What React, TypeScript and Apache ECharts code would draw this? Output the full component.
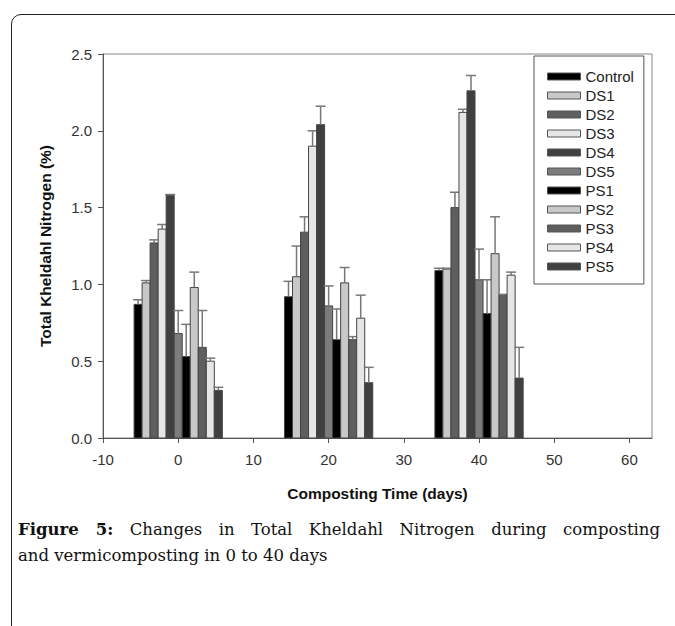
import React, { useEffect, useRef } from 'react';
import * as echarts from 'echarts';

// ---- data ----
const days = [0, 20, 40];
const seriesNames = ['Control', 'DS1', 'DS2', 'DS3', 'DS4', 'DS5', 'PS1', 'PS2', 'PS3', 'PS4', 'PS5'];

const control = [0.87, 0.92, 1.09];
const controlErr = [0.03, 0.10, 0.015];
const ds1 = [1.01, 1.05, 1.10];
const ds1Err = [0.015, 0.20, 0.005];
const ds2 = [1.27, 1.34, 1.50];
const ds2Err = [0.02, 0.10, 0.10];
const ds3 = [1.36, 1.90, 2.12];
const ds3Err = [0.03, 0.10, 0.02];
const ds4 = [1.58, 2.04, 2.26];
const ds4Err = [0.005, 0.12, 0.10];
const ds5 = [0.68, 0.86, 1.03];
const ds5Err = [0.15, 0.13, 0.20];
const ps1 = [0.53, 0.64, 0.81];
const ps1Err = [0.21, 0.20, 0.22];
const ps2 = [0.98, 1.01, 1.20];
const ps2Err = [0.10, 0.10, 0.24];
const ps3 = [0.59, 0.64, 0.93];
const ps3Err = [0.24, 0.02, 0.005];
const ps4 = [0.50, 0.78, 1.06];
const ps4Err = [0.02, 0.15, 0.02];
const ps5 = [0.31, 0.36, 0.39];
const ps5Err = [0.02, 0.10, 0.20];

const xTicks = [-10, 0, 10, 20, 30, 40, 50, 60];

// ---- styles ----
const colors = ['#000000', '#c8c8c8', '#5e5e5e', '#e6e6e6', '#404040', '#7c7c7c',
  '#000000', '#c8c8c8', '#5e5e5e', '#e6e6e6', '#404040'];
const BAR_W = 1.067; // bar width in x-axis units (days)
const SANS = '"Liberation Sans", Arial, sans-serif';
const SERIF = '"DejaVu Serif", "Liberation Serif", serif';

export default function App() {
  const ref = useRef<HTMLDivElement>(null);

  useEffect(() => {
    const chart = echarts.init(ref.current as HTMLDivElement, null, { renderer: 'svg' });
    const values = [control, ds1, ds2, ds3, ds4, ds5, ps1, ps2, ps3, ps4, ps5];
    const errs = [controlErr, ds1Err, ds2Err, ds3Err, ds4Err, ds5Err, ps1Err, ps2Err, ps3Err, ps4Err, ps5Err];
    const n = seriesNames.length;

    const series: any[] = seriesNames.map((name, i) => ({
      name,
      type: 'custom',
      itemStyle: { color: colors[i], borderColor: '#444', borderWidth: 1 },
      encode: { x: 0, y: 1 },
      data: days.map((d, k) => [d, values[i][k], errs[i][k]]),
      renderItem: (params: any, api: any) => {
        const d = api.value(0);
        const v = api.value(1);
        const e = api.value(2);
        const xc = d + (i - (n - 1) / 2) * BAR_W;
        const tl = api.coord([xc - BAR_W / 2, v]);
        const br = api.coord([xc + BAR_W / 2, 0]);
        const c = api.coord([xc, v]);
        const t = api.coord([xc, v + e]);
        return {
          type: 'group',
          children: [
            {
              type: 'rect',
              shape: { x: tl[0], y: tl[1], width: br[0] - tl[0], height: br[1] - tl[1] },
              style: { fill: colors[i], stroke: '#444', lineWidth: 1 },
            },
            {
              type: 'line',
              shape: { x1: c[0], y1: c[1], x2: c[0], y2: t[1] },
              style: { stroke: '#777', lineWidth: 1.5 },
            },
            {
              type: 'line',
              shape: { x1: c[0] - 5, y1: t[1], x2: c[0] + 5, y2: t[1] },
              style: { stroke: '#777', lineWidth: 1.5 },
            },
          ],
        };
      },
    }));

    chart.setOption({
      animation: false,
      grid: { left: 103, right: 23, top: 54, bottom: 188, show: true, borderColor: '#888', borderWidth: 1 },
      legend: {
        orient: 'vertical',
        left: 534,
        top: 56,
        padding: [13, 10, 10, 13],
        itemWidth: 33,
        itemHeight: 7,
        itemGap: 4,
        icon: 'rect',
        selectedMode: false,
        borderColor: '#555',
        borderWidth: 1,
        backgroundColor: '#fff',
        textStyle: { fontFamily: SANS, fontSize: 15, color: '#222', lineHeight: 15 },
        data: seriesNames.map((nm, i) => ({
          name: nm,
          itemStyle: { color: colors[i], borderColor: '#555', borderWidth: 1 },
        })),
      },
      xAxis: {
        type: 'value',
        min: -10,
        max: 63,
        interval: 10,
        name: 'Composting Time (days)',
        nameLocation: 'middle',
        nameGap: 47,
        nameTextStyle: { fontFamily: SANS, fontSize: 15.5, fontWeight: 'bold', color: '#111' },
        axisLine: { show: true, onZero: false, lineStyle: { color: '#555' } },
        axisTick: { show: true, length: 5, customValues: xTicks, lineStyle: { color: '#555' } },
        axisLabel: { customValues: xTicks, fontFamily: SANS, fontSize: 15, color: '#333', margin: 14 },
        splitLine: { show: false },
      },
      yAxis: {
        type: 'value',
        min: 0,
        max: 2.5,
        interval: 0.5,
        name: 'Total Kheldahl Nitrogen (%)',
        nameLocation: 'middle',
        nameGap: 50,
        nameTextStyle: { fontFamily: SANS, fontSize: 15.5, fontWeight: 'bold', color: '#111' },
        axisLine: { show: true, onZero: false, lineStyle: { color: '#555' } },
        axisTick: { show: true, length: 5, lineStyle: { color: '#555' } },
        axisLabel: {
          formatter: (v: number) => v.toFixed(1),
          fontFamily: SANS,
          fontSize: 15,
          color: '#333',
          margin: 11,
        },
        splitLine: { show: false },
      },
      series,
    });

    return () => chart.dispose();
  }, []);

  return (
    <div style={{ position: 'fixed', left: 0, top: 0, width: 675, height: 626, overflow: 'hidden', background: '#fff' }}>
      <div
        style={{
          position: 'absolute', left: 11, top: 14, width: 720, height: 720,
          border: '1.5px solid #222', borderRadius: 10, boxSizing: 'border-box',
        }}
      />
      <div ref={ref} style={{ position: 'absolute', left: 0, top: 0, width: 675, height: 626 }} />
      <div
        style={{
          position: 'absolute', left: 18, top: 517, width: 642,
          fontFamily: SERIF, fontSize: 16.5, lineHeight: '26px', color: '#111',
        }}
      >
        <div style={{ textAlign: 'justify', textAlignLast: 'justify' }}>
          <b>Figure 5:</b> Changes in Total Kheldahl Nitrogen during composting
        </div>
        <div>and vermicomposting in 0 to 40 days</div>
      </div>
    </div>
  );
}
